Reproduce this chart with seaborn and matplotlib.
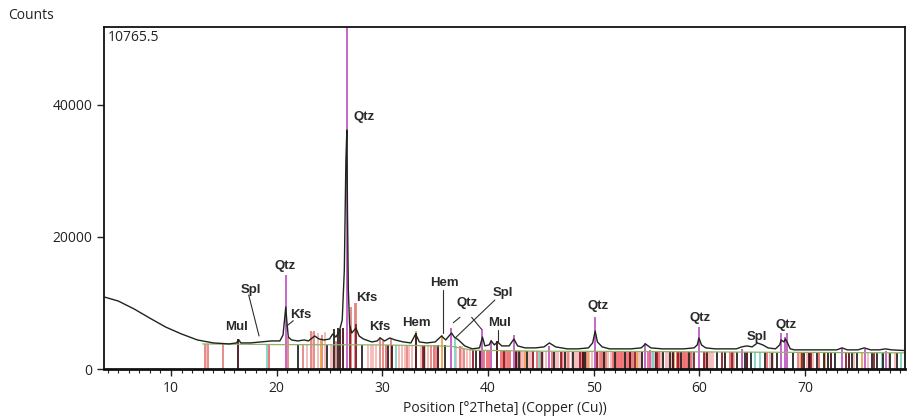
"""
plot.py
-------
XRD pattern with phase reference sticks (Qtz, Kfs, Hem, Spl, Mul).
"""

import pandas as pd
import matplotlib.pyplot as plt
import seaborn as sns

sns.set_style("ticks")
plt.rcParams["font.family"] = ["Open Sans", "DejaVu Sans"]

two_theta = [3.7, 5.0, 6.5, 8.0, 9.5, 11.0, 12.5, 14.0, 15.5, 16.2, 16.4, 16.6,
             17.5, 18.5, 19.5, 20.3, 20.6, 20.75, 20.86, 20.95, 21.1, 21.4, 22.0,
             22.6, 23.0, 23.6, 24.0, 24.5, 25.0, 25.3, 25.6, 25.9, 26.2, 26.4,
             26.55, 26.64, 26.7, 26.78, 26.9, 27.1, 27.5, 27.8, 28.2, 29.0, 29.5,
             29.8, 30.2, 30.7, 31.2, 32.0, 32.7, 33.15, 33.5, 34.2, 35.0, 35.6,
             36.0, 36.3, 36.55, 36.8, 37.2, 37.8, 38.5, 39.2, 39.47, 39.7, 40.1,
             40.3, 40.6, 40.9, 41.3, 42.0, 42.45, 42.8, 43.5, 44.5, 45.3, 45.8,
             46.4, 47.5, 48.5, 49.5, 49.9, 50.14, 50.35, 50.8, 51.5, 52.5, 53.5,
             54.5, 54.9, 55.4, 56.5, 57.5, 58.5, 59.5, 59.8, 59.96, 60.2, 60.6,
             61.5, 62.5, 63.5, 64.0, 64.5, 65.0, 65.5, 66.0, 66.5, 67.2, 67.6,
             67.74, 68.0, 68.14, 68.3, 68.6, 69.0, 70.0, 71.0, 72.0, 73.0, 73.5,
             74.0, 75.0, 75.6, 76.2, 77.0, 77.6, 78.2, 79.4]
counts = [10900, 10300, 9100, 7700, 6350, 5300, 4400, 3950, 3800, 3950, 4450, 3950,
          3950, 4100, 4250, 4250, 5150, 7700, 9400, 7400, 4850, 4400, 4250,
          4400, 4250, 5000, 4550, 4400, 4550, 5300, 4850, 5600, 7400, 15000,
          31700, 36200, 23600, 12000, 6650, 5450, 6200, 5000, 4550, 4100, 4250,
          4700, 4250, 4700, 4400, 4100, 3950, 5300, 4100, 3950, 4100, 5000,
          4400, 5000, 5450, 4850, 4400, 3500, 3050, 3200, 4850, 3500, 3650,
          4250, 3650, 4100, 3500, 3500, 4550, 3500, 3200, 3200, 3350, 3950,
          3350, 3050, 3050, 3200, 3950, 5750, 4100, 3350, 3050, 3050, 3050,
          3200, 3800, 3200, 3050, 3050, 3050, 3200, 3650, 4700, 3650, 3200,
          3050, 3050, 3050, 3350, 3500, 3350, 3950, 3650, 3200, 3050, 3650,
          4400, 4100, 4550, 4100, 3050, 2900, 2900, 2900, 2900, 2900, 3200,
          2900, 2900, 3200, 2900, 2900, 3050, 2900, 2800]

bg_theta = [13.0, 20.0, 30.0, 36.5, 38.5, 45.0, 55.0, 65.0, 79.4]
bg_counts = [3800, 3700, 3650, 3450, 2850, 2700, 2650, 2550, 2450]

# ── Reference sticks per phase ────────────────────────────
qtz_pos = [20.86, 26.64, 36.54, 39.47, 40.29, 42.45, 45.79, 50.14, 54.87, 55.33,
           59.96, 64.03, 67.74, 68.14, 68.31, 73.47, 75.66, 77.67]
qtz_top = [14200, 60000, 6200, 6000, 4400, 5100, 3500, 7900, 3900, 2900,
           6400, 3000, 5400, 4900, 5400, 3200, 3000, 2800]

kfs_pos = [13.2, 13.5, 14.9, 21.03, 22.5, 23.25, 23.5, 24.25, 25.6, 27.0, 27.45,
           27.55, 29.8, 30.1, 30.8, 32.3, 34.6, 35.1, 37.7, 41.8, 42.7, 44.9,
           47.6, 50.6, 51.2, 53.7, 57.5, 60.5, 63.2, 69.3]
kfs_top = [3800, 3800, 3800, 4900, 3800, 5700, 5700, 5200, 4300, 9400, 10000,
           10000, 4800, 4300, 4700, 3700, 3700, 3700, 3100, 2750, 2750, 2750,
           2650, 2650, 2650, 2650, 2600, 2600, 2600, 2500]

hem_pos = [24.15, 33.15, 35.61, 39.28, 40.85, 43.5, 49.45, 54.09, 57.6, 62.45,
           63.99, 69.6, 71.9, 75.4]
hem_top = [4600, 5700, 5200, 2800, 2800, 2750, 2650, 2650, 2600, 2600,
           2600, 2500, 2500, 2500]

spl_pos = [19.05, 31.3, 36.85, 44.8, 55.65, 59.35, 65.25, 65.7, 77.3, 79.1]
spl_top = [3800, 3650, 4700, 2750, 2650, 2600, 2550, 2550, 2500, 2450]

mul_pos = [16.35, 26.0, 26.25, 30.95, 33.2, 35.25, 39.25, 40.85, 42.6, 49.0,
           53.4, 57.5, 60.7, 64.5, 70.4, 72.5, 74.2]
mul_top = [4500, 6000, 6200, 3650, 5400, 3650, 2800, 4200, 2750, 2650,
           2650, 2600, 2600, 2550, 2500, 2500, 2500]

red_pos = [19.3, 30.3, 34.9, 37.3, 39.6, 39.9, 40.05, 41.2, 41.4, 41.6, 41.9, 42.1,
           43.0, 44.6, 46.1, 47.0, 48.9, 49.1, 49.3, 50.7, 50.9, 51.1, 51.8,
           51.95, 52.1, 52.25, 52.4, 52.55, 52.7, 52.85, 53.0, 53.15, 53.3, 53.45,
           53.6, 55.1, 56.2, 57.9, 58.05, 58.2, 58.35, 58.5, 58.65, 58.8, 58.95,
           59.1, 59.25, 62.9, 66.4, 71.3]
red_top = [3800, 3650, 3650, 3450, 2800, 2800, 2800, 2750, 2750, 2750, 2750, 2750,
           2750, 2750, 2650, 2650, 2650, 2650, 2650, 2650, 2650, 2650, 2650,
           2650, 2650, 2650, 2650, 2650, 2650, 2650, 2650, 2650, 2650, 2650,
           2650, 2650, 2600, 2600, 2600, 2600, 2600, 2600, 2600, 2600, 2600,
           2600, 2600, 2600, 2550, 2500]

pink_pos = [13.35, 22.9, 23.3, 23.9, 24.6, 25.1, 25.3, 28.6, 28.9, 29.1, 29.4,
            31.6, 31.9, 32.1, 32.5, 32.8, 33.7, 34.0, 34.3, 37.0, 37.5, 38.0,
            38.3, 43.2, 43.4, 43.8, 44.0, 44.2, 45.2, 45.5, 46.4, 46.6, 47.2,
            47.4, 47.7, 47.9, 48.2, 48.4, 48.6, 49.6, 49.8, 50.4, 51.4, 51.6,
            54.2, 54.4, 54.6, 55.5, 55.7, 55.9, 56.1, 56.4, 56.6, 56.8, 57.0,
            57.3, 60.9, 61.1, 61.3, 63.3, 66.7, 67.0, 69.4, 70.2, 70.8, 72.2,
            74.6, 76.0, 77.9, 78.5]
pink_top = [3800, 3700, 5600, 5400, 5600, 3700, 3700, 3700, 3700, 3700, 3700,
            3650, 3650, 3650, 3650, 3650, 3650, 3650, 3650, 3450, 3450, 3100,
            3100, 2750, 2750, 2750, 2750, 2750, 2650, 2650, 2650, 2650, 2650,
            2650, 2650, 2650, 2650, 2650, 2650, 2650, 2650, 2650, 2650, 2650,
            2650, 2650, 2650, 2600, 2600, 2600, 2600, 2600, 2600, 2600, 2600,
            2600, 2600, 2600, 2600, 2550, 2550, 2500, 2500, 2500, 2500, 2500,
            2500, 2500, 2450, 2450]

dark_pos = [26.9, 27.5, 33.8, 38.6, 41.5, 44.3, 46.9, 48.75, 50.3, 53.9, 56.0,
            58.0, 59.5, 60.4, 62.1, 63.1, 69.7, 70.6, 73.9, 76.5]
dark_top = [6500, 6800, 3650, 2850, 2750, 2750, 2650, 2650, 2650, 2650, 2600,
            2600, 2600, 2600, 2600, 2550, 2500, 2500, 2500, 2500]

blk_pos = [22.0, 24.8, 25.4, 25.8, 28.1, 30.5, 33.9, 35.9, 38.9, 42.9, 43.7, 45.1,
           46.2, 47.3, 48.0, 49.2, 51.0, 52.0, 53.0, 54.6, 55.9, 56.6, 57.2,
           58.3, 59.0, 61.65, 62.4, 63.6, 64.3, 64.9, 66.2, 66.9, 67.3, 68.9,
           69.9, 70.5, 71.1, 71.8, 72.2, 72.8, 74.4, 74.9, 76.3, 76.8, 77.4,
           78.0, 78.7]
blk_top = [3700, 3700, 6000, 6200, 3700, 3650, 3650, 3650, 2850, 2750, 2750, 2650,
           2650, 2650, 2650, 2650, 2650, 2650, 2650, 2650, 2600, 2600, 2600,
           2600, 2600, 2600, 2600, 2550, 2550, 2550, 2550, 2500, 2500, 2500,
           2500, 2500, 2500, 2500, 2500, 2500, 2500, 2500, 2500, 2500, 2500,
           2450, 2450]

# ── Phase labels and leader lines ─────────────────────────
lab_text = ["Mul", "Spl", "Qtz", "Kfs", "Qtz", "Kfs", "Kfs", "Hem", "Hem", "Qtz",
            "Spl", "Mul", "Qtz", "Qtz", "Spl", "Qtz"]
lab_x = [16.24, 17.57, 20.79, 22.3, 28.26, 28.54, 29.77, 33.27, 35.83, 38.0,
         41.41, 41.13, 50.4, 60.05, 65.44, 68.18]
lab_y = [6360, 11970, 15600, 8180, 38180, 10760, 6360, 6970, 13030, 10000,
         11510, 6970, 9540, 7730, 4850, 6670]

lead_x0 = [17.35, 20.95, 35.7, 36.71, 38.45, 40.65, 40.96]
lead_y0 = [11210, 6515, 11970, 7010, 7830, 10450, 5900]
lead_x1 = [18.33, 21.57, 35.7, 37.34, 39.39, 36.96, 40.96]
lead_y1 = [5000, 7320, 5450, 7830, 6010, 4800, 4140]

phases = [
    (pink_pos, pink_top, "#f3b9b6"),
    (red_pos, red_top, "#ef6b70"),
    (kfs_pos, kfs_top, "#e3857e"),
    (hem_pos, hem_top, "#eaa34f"),
    (spl_pos, spl_top, "#7fd4c6"),
    (blk_pos, blk_top, "#262626"),
    (dark_pos, dark_top, "#8e1d28"),
    (mul_pos, mul_top, "#4a0f18"),
    (qtz_pos, qtz_top, "#c35bc4"),
]

# ── Plot ──────────────────────────────────────────────────
fig, ax = plt.subplots(figsize=(9.07, 4.19), dpi=100)
fig.subplots_adjust(left=0.1147, right=0.9978, bottom=0.1193, top=0.9356)

for pos, top, col in phases:
    ax.vlines(pos, 0, top, colors=col, lw=1.3, zorder=1)

sns.lineplot(x=bg_theta, y=bg_counts, ax=ax, color="#8fb36a", lw=0.9,
             estimator=None, sort=False, zorder=2)

pattern = pd.DataFrame({"theta": two_theta, "counts": counts})
sns.lineplot(data=pattern, x="theta", y="counts", ax=ax, color="#1c261c",
             lw=1.0, estimator=None, sort=False, zorder=3)

for t, x, y in zip(lab_text, lab_x, lab_y):
    ax.text(x, y, t, ha="center", va="center", fontsize=9.5, fontweight="bold",
            family=["Liberation Sans", "DejaVu Sans"], color="#2a2a2a", zorder=5)

for x0, y0, x1, y1 in zip(lead_x0, lead_y0, lead_x1, lead_y1):
    ax.plot([x0, x1], [y0, y1], color="#303030", lw=0.8, zorder=4)

ax.set_xlim(3.66, 79.46)
ax.set_ylim(0, 51800)
ax.set_xticks([10, 20, 30, 40, 50, 60, 70])
ax.set_xticks(range(4, 80), minor=True)
ax.set_yticks([0, 20000, 40000])
ax.tick_params(axis="both", which="major", length=5, width=1, color="#222",
               labelsize=10, labelcolor="#222")
ax.tick_params(axis="x", which="minor", length=3, width=0.8, color="#222")
for side in ["left", "right", "top"]:
    ax.spines[side].set_linewidth(1.3)
    ax.spines[side].set_color("#111")
ax.spines["bottom"].set_linewidth(2.0)
ax.spines["bottom"].set_color("#111")

ax.set_xlabel("Position [°2Theta] (Copper (Cu))", fontsize=10, color="#222",
              labelpad=4)
ax.set_ylabel("")
ax.text(0.005, 0.968, "10765.5", transform=ax.transAxes, ha="left",
        va="center", fontsize=10, color="#222")
fig.text(0.009, 0.962, "Counts", ha="left", va="center", fontsize=10,
         color="#222")

plt.savefig("out.png", dpi=100)
plt.close()
